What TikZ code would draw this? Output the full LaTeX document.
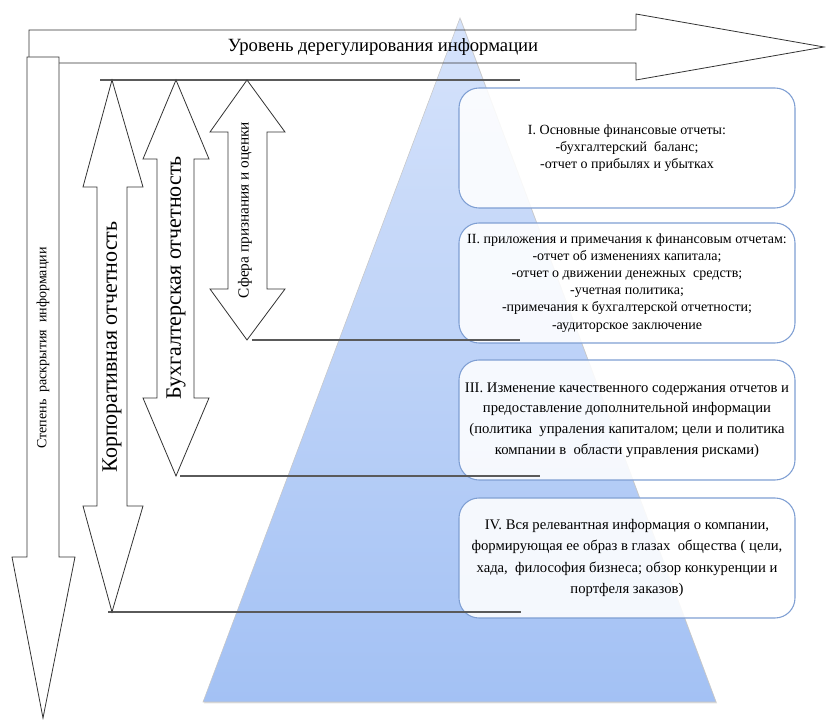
\documentclass[tikz,border=0pt]{standalone}
\usepackage{fontspec}
\setmainfont{Liberation Serif}
\usetikzlibrary{shadows}

\definecolor{pyrtop}{HTML}{D6E3FB}
\definecolor{pyrbot}{HTML}{A3C1F4}
\definecolor{boxline}{HTML}{7F9FD3}
\definecolor{levelgray}{HTML}{5A5A5A}

\tikzset{
  blockarrow/.style={draw=black!80, line width=0.6pt, fill=white},
  levelline/.style={draw=levelgray, line width=1.1pt},
  infobox/.style={draw=boxline, line width=0.8pt, rounded corners=15pt,
    fill=white, fill opacity=0.88, text opacity=1,
    minimum width=252pt, minimum height=90pt, align=center},
}

\begin{document}
\begin{tikzpicture}[x=0.75pt, y=-0.75pt]
    \useasboundingbox (0,0) rectangle (826,720);
    % pyramid
    \path [draw=gray!45, top color=pyrtop, bottom color=pyrbot,
           drop shadow={opacity=0.25, shadow xshift=0.8pt, shadow yshift=-1pt}]
          (460,18) -- (716,702) -- (203,702) -- cycle;
    % deregulation
    \draw [blockarrow, fill=none] (29,30) -- (636,30) -- (636,14) -- (824,47)
          -- (636,80) -- (636,63) -- (29,63) -- cycle;
    \node (dereg) at (383,47) {\fontsize{14}{16}\selectfont Уровень дерегулирования информации};
    % disclosure
    \draw [blockarrow] (27,57) -- (59,57) -- (59,557) -- (75,557) -- (43,718)
          -- (12,557) -- (27,557) -- cycle;
    \node [rotate=90] (disclosure) at (43,348) {\fontsize{10.5}{12}\selectfont Степень\ \ раскрытия\ \ информации};
    % boxes
    \node [infobox, font=\fontsize{10.5}{13}\selectfont] (box1) at (627,148)
          {I. Основные финансовые отчеты:\\ -бухгалтерский\ \ баланс;\\ -отчет о прибылях и убытках};
    \node [infobox, font=\fontsize{10.5}{12.8}\selectfont] (box2) at (627,283)
          {II. приложения и примечания к финансовым отчетам:\\ -отчет об изменениях капитала;\\
           -отчет о движении денежных\ \ средств;\\ -учетная политика;\\
           -примечания к бухгалтерской отчетности;\\ -аудиторское заключение};
    \node [infobox, font=\fontsize{11}{15.5}\selectfont] (box3) at (627,420)
          {III. Изменение качественного содержания отчетов и\\ предоставление дополнительной информации\\
           (политика\ \ упраления капиталом; цели и политика\\ компании в\ \ области управления рисками)};
    \node [infobox, font=\fontsize{11}{15.8}\selectfont] (box4) at (627,558)
          {IV. Вся релевантная информация о компании,\\ формирующая ее образ в глазах\ \ общества ( цели,\\
           хада,\ \ философия бизнеса; обзор конкуренции и\\ портфеля заказов)};
    % levels
    \coordinate (top)    at (100,80);
    \coordinate (sfera)  at (252,340);
    \coordinate (buh)    at (180,476);
    \coordinate (corp)   at (108,612);
    \draw [levelline, line width=0.8pt] (top) -- (520,80);
    \draw [levelline] (sfera) -- (520,340);
    \draw [levelline] (buh) -- (540,476);
    \draw [levelline] (corp) -- (521,612);
    % corporate
    \draw [blockarrow] (112,80) -- (143,187) -- (127,187) -- (127,506) -- (143,506) -- (112,612)
          -- (83,506) -- (97,506) -- (97,187) -- (83,187) -- cycle;
    \node [rotate=90] (corptext) at (112,347) {\fontsize{16.5}{18}\selectfont Корпоративная отчетность};
    % accounting
    \draw [blockarrow] (176,80) -- (209,159) -- (194,159) -- (194,398) -- (209,398) -- (176,476)
          -- (143,398) -- (157,398) -- (157,159) -- (143,159) -- cycle;
    \node [rotate=90] (buhtext) at (176,278) {\fontsize{16.5}{18}\selectfont Бухгалтерская отчетность};
    % recognition
    \draw [blockarrow] (247,80) -- (285,132) -- (267,132) -- (267,289) -- (285,289) -- (247,340)
          -- (210,289) -- (228,289) -- (228,132) -- (210,132) -- cycle;
    \node [rotate=90] (sferatext) at (245,210) {\fontsize{11.5}{13}\selectfont Сфера признания и оценки};
\end{tikzpicture}
\end{document}
